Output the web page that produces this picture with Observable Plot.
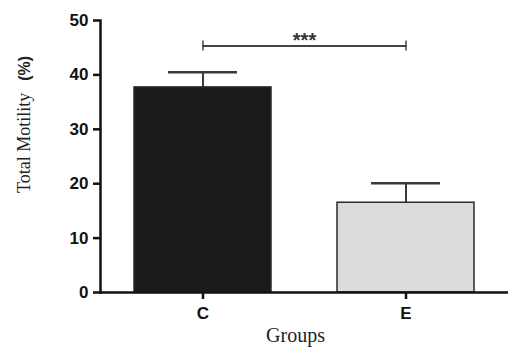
<!DOCTYPE html>
<html><head><meta charset="utf-8">
<script src="https://cdn.jsdelivr.net/npm/d3@7"></script>
<script src="https://cdn.jsdelivr.net/npm/@observablehq/plot@0.6"></script>
<style>body{margin:0;background:#fff} svg{display:block}</style>
</head><body><div id="chart"></div>
<script>
const groups = ["C", "E"];
const means = [37.7, 16.5];
const errors = [2.8, 3.6];
const yTicks = [0, 10, 20, 30, 40, 50];
const sigLevel = [45.3];
const sigText = ["***"];
const barFills = ["#1b191a", "#dcdadb"];
const yLabel = "Total Motility";
const yUnit = "(%)";
const xLabel = "Groups";

const data = groups.map((g, i) => ({g, m: means[i], top: means[i] + errors[i]}));
const bracket = groups.map(g => ({g, y: sigLevel[0]}));
const stars = sigText.map((t, i) => ({t, y: sigLevel[i]}));

const chart = Plot.plot({
  width: 514, height: 352,
  marginLeft: 100, marginRight: 6, marginTop: 20, marginBottom: 60,
  x: {domain: groups, paddingInner: 0.325, paddingOuter: 0.167, label: null, axis: null},
  y: {domain: [0, 50], label: null, axis: null},
  color: {domain: groups, range: barFills},
  style: {background: "#fff", fontFamily: "'Liberation Sans', Arial, sans-serif", color: "#111", fontSize: "17px"},
  marks: [
    Plot.ruleX(data, {x: "g", y1: "m", y2: "top", stroke: "#3a3a3a", strokeWidth: 2}),
    Plot.tickY(data, {x: "g", y: "top", stroke: "#3a3a3a", strokeWidth: 2.5, insetLeft: 34, insetRight: 34}),
    Plot.barY(data, {x: "g", y: "m", fill: "g", stroke: "#2a2a2a", strokeWidth: 1.5}),
    Plot.line(bracket, {x: "g", y: "y", stroke: "#444", strokeWidth: 2}),
    Plot.ruleX(bracket, {x: "g", y1: "y", y2: "y", stroke: "#444", strokeWidth: 1.5, insetTop: -5, insetBottom: -5}),
    Plot.text(stars, {y: "y", text: "t", fontSize: 20, fontWeight: "bold", fill: "#333", lineAnchor: "bottom", dy: 1}),
    Plot.ruleY([0], {stroke: "#111", strokeWidth: 2.5}),
    Plot.frame({anchor: "left", stroke: "#111", strokeWidth: 2.5}),
    Plot.axisY(yTicks, {tickSize: 7, tickPadding: 5, strokeWidth: 2.5, fontSize: 17, fontWeight: "bold", label: null, fill: "#111", ariaLabel: "yticks"}),
    Plot.axisX({tickSize: 7, tickPadding: 7, strokeWidth: 2.5, fontSize: 17, fontWeight: "bold", label: null, fill: "#111", ariaLabel: "xticks"}),
    Plot.text([xLabel], {frameAnchor: "bottom", text: d => d, dy: 49, dx: -9, fontSize: 20, fontFamily: "'Liberation Serif', 'Times New Roman', serif", fill: "#222"}),
    Plot.text([yLabel + " " + yUnit], {frameAnchor: "left", textAnchor: "middle", text: d => d, rotate: -90, dx: -76, dy: -32, fontSize: 18, fill: "#222"})
  ]
});
document.getElementById("chart").appendChild(chart);

// tick label sizes
d3.select(chart).selectAll("g[aria-label^='yticks'] text, g[aria-label^='xticks'] text, g[aria-label*='tick label'] text")
  .attr("font-size", 17).attr("font-weight", "bold");

// mixed fonts in the y-axis title
d3.select(chart).selectAll("text").each(function() {
  if (this.textContent === yLabel + " " + yUnit) {
    const t = d3.select(this);
    t.text(null);
    t.append("tspan").text(yLabel).attr("font-family", "'Liberation Serif', 'Times New Roman', serif").attr("font-size", 18);
    t.append("tspan").text(yUnit).attr("dx", 12).attr("font-weight", "bold").attr("font-size", 16);
  }
});
</script>
</body></html>
